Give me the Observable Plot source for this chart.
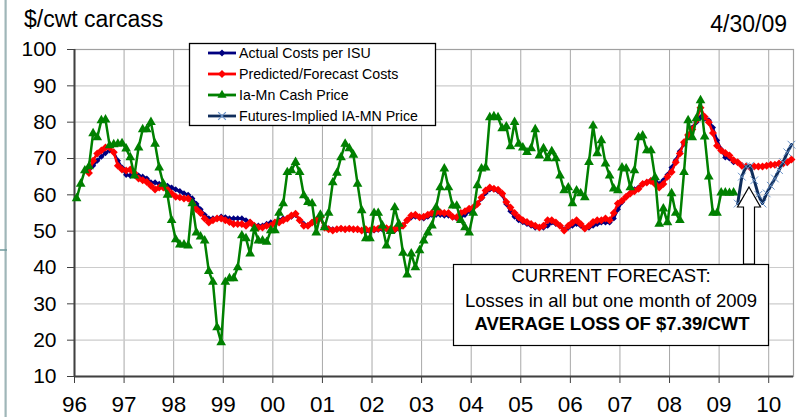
<!DOCTYPE html>
<html><head><meta charset="utf-8">
<script src="https://cdn.jsdelivr.net/npm/d3@7"></script>
<script src="https://cdn.jsdelivr.net/npm/@observablehq/plot@0.6"></script>
<style>
body{margin:0;background:#fff;}
#chart{position:relative;width:802px;height:417px;overflow:hidden;}
</style>
</head><body><div id="chart"></div>
<script>
const FONT = "'Liberation Sans', Arial, sans-serif";
const startYear = 1996;

// Ia-Mn Cash Price, monthly from Jan 1996
const cashStart = 0;
const cashPrice = [
  59, 63, 66.7, 67.8, 76.9, 75.8, 80.5, 80.7, 73.6, 73.9, 74, 74.2,
  72.7, 70.3, 65.3, 73, 78, 78, 80, 74, 67.5, 63, 60, 53,
  47.7, 46.3, 46.3, 46, 57.6, 49.6, 48.5, 47.4, 39, 36, 23.5, 19.4,
  36, 37, 37, 40, 48.8, 48, 43.8, 50.7, 47.4, 47.4, 47, 50.2,
  50.2, 55, 57.6, 66.2, 66.7, 69, 66.2, 59.8, 58, 57.6, 49.6, 54.5,
  51, 55, 63.4, 66, 70.3, 74, 72.8, 71, 63, 55.7, 48, 48,
  55, 55, 51.5, 46, 50, 56.5, 52, 44, 38, 43.8, 40, 44.7,
  47.4, 49.6, 51.5, 56.5, 62, 67.2, 62, 57, 57, 53, 51, 49.6,
  55, 62.6, 67.2, 67.5, 81.3, 81.6, 81.3, 78.3, 78.8, 73.3, 80, 74,
  73, 71.7, 72.8, 78, 70.8, 72.8, 70, 72, 70, 65.3, 61.2, 62,
  57.6, 61.2, 60.4, 59.3, 69, 79, 71.4, 75, 68.6, 65.3, 61.7, 61.2,
  67.5, 67.2, 62, 66.7, 75.8, 76.3, 72.2, 72.2, 64.8, 52, 56.2, 52.4,
  60.4, 55, 53, 66.2, 80.5, 75.8, 81, 86, 76, 65, 55, 55,
  60.6, 60.6, 60.5, 60.6
];

// Actual Costs per ISU, monthly from Apr 1996
const actualStart = 3;
const actualCosts = [
  67, 68, 69.4, 70.5, 71.5, 72.2, 71.7, 69.4, 67.5,
  65.5, 65.3, 65.3, 65.3, 65, 64.5, 63.4, 63.4, 63, 63, 62.5, 62,
  61.5, 61, 60.4, 60, 59, 57.5, 56, 54.5, 53.5, 53.5, 53.5, 54,
  53.8, 53.5, 53.5, 53.5, 53.5, 53, 52.5, 51.5, 51.5, 51.5, 52, 52.4,
  52.4, 53, 53.5, 53.5, 54, 54.5, 53, 52, 51.5, 52.4, 53, 53.5,
  51.5, 50.7, 50.5, 50.5, 50.7, 50.5, 50.7, 50.5, 50.4, 50.2, 50, 50,
  50.2, 50.4, 50.5, 50.5, 50.4, 50.2, 50.7, 51.5, 53, 53.8, 54, 53.8,
  53.5, 54, 54.5, 54.5, 54.5, 54.3, 54.3, 53.8, 53.5, 54, 54.5, 55.5,
  56.5, 57.5, 59, 60.5, 61.5, 61.5, 61, 60, 57.5, 55.5, 54, 53,
  52.5, 52, 51.5, 51, 51, 51, 51.5, 52.4, 52, 51.5, 50.5, 51,
  51.5, 52, 51.5, 50.7, 51, 51.5, 52, 52.4, 52.4, 52.4, 53.5, 56,
  58, 59.5, 60.5, 61.5, 62, 63, 63.4, 64, 64, 63, 64, 65.5,
  67.5, 69.5, 72, 74, 76, 78.5, 80, 81.3, 81, 80.5, 78.5, 75,
  72.5, 70.3, 70, 69
];

// Predicted/Forecast Costs, monthly from Apr 1996
const predictedStart = 3;
const predictedCosts = [
  66, 69.4, 71.4, 72.2, 73, 73, 71.7, 68, 67,
  66.7, 67, 66, 64.5, 64, 63.5, 62.5, 61.5, 62, 62, 61.5, 60.4,
  59.5, 59.3, 59, 59, 57.6, 56, 55, 53.5, 52.4, 53, 53.5, 53.5,
  53, 52.5, 52, 52, 52, 51.5, 52.4, 51.5, 51, 51, 51.5, 51.5,
  52.4, 52.4, 53, 53.5, 54.3, 54.8, 53, 51.5, 51.5, 52.4, 53, 53.8,
  51, 50.5, 50.2, 50.5, 50.7, 50.5, 50.7, 50.5, 50.5, 50.2, 50.5, 50.2,
  50.5, 50.7, 51, 50.8, 50.7, 50.5, 51, 51.5, 53, 54.3, 54.5, 53.8,
  54, 54.5, 55, 55.2, 55.2, 55, 55, 54, 53.8, 55, 55.5, 56.2,
  56.5, 57.5, 59.3, 61.2, 62, 61.7, 61.4, 60.4, 58, 56.5, 55, 53.8,
  53, 52.5, 52, 51.5, 51, 51.5, 53, 53, 52.4, 51.5, 50.2, 51.5,
  52.4, 53, 52, 50.7, 51.5, 52.5, 53, 53, 53.5, 53, 55, 57.6,
  58.4, 59.5, 60.4, 61, 61.7, 63, 63.4, 63.8, 63, 62, 63, 65,
  66.3, 69, 71.4, 74.5, 76.5, 78, 80.5, 84, 81.5, 80, 77, 73.5,
  72.2, 71.5, 70.8, 69.5, 69, 68, 67.8, 67.5, 67.8, 67.8, 67.8, 68,
  68.3, 68.3, 68.6, 68.6, 69, 69.7
];

// Futures-Implied IA-MN Price, monthly from May 2009
const futuresStart = 160;
const futuresPrice = [57.6, 65, 67.8, 68, 64, 60, 57.6, 60.4, 62.5, 64.5, 66.8, 69, 71.7, 73.8];

const yearTicks = [1996, 1997, 1998, 1999, 2000, 2001, 2002, 2003, 2004, 2005, 2006, 2007, 2008, 2009, 2010];
const yearLabels = ["96", "97", "98", "99", "00", "01", "02", "03", "04", "05", "06", "07", "08", "09", "10"];
const yTicks = [10, 20, 30, 40, 50, 60, 70, 80, 90, 100];

const seriesNames = ["Actual Costs per ISU", "Predicted/Forecast Costs", "Ia-Mn Cash Price", "Futures-Implied IA-MN Price"];
const colors = {actual: "#000080", predicted: "#FF0000", cash: "#008000", futures: "#102E5C", futuresMark: "#6A93C8"};

const rows = (arr, start) => arr.map((v, i) => ({t: startYear + (start + i + 0.5) / 12, v}));
const actualRows = rows(actualCosts, actualStart);
const predictedRows = rows(predictedCosts, predictedStart);
const cashRows = rows(cashPrice, cashStart);
const futuresRows = rows(futuresPrice, futuresStart);

const chart = Plot.plot({
  width: 802, height: 417,
  marginLeft: 74, marginRight: 9, marginTop: 49, marginBottom: 41,
  style: {fontFamily: FONT, background: "#fff", color: "#000", overflow: "visible"},
  x: {domain: [1996, 2010.5]},
  y: {domain: [10, 100]},
  marks: [
    Plot.gridX(yearTicks, {stroke: "#a8a8a8", strokeOpacity: 1, strokeWidth: 1}),
    Plot.gridY(yTicks, {stroke: "#cccccc", strokeOpacity: 1, strokeWidth: 1.2}),
    Plot.frame({stroke: "#a0a0a0", strokeWidth: 1.2}),
    Plot.axisY({ticks: yTicks, tickSize: 7, tickPadding: 11, fontSize: 21, stroke: "#404040", fill: "#000", label: null}),
    Plot.axisX({ticks: yearTicks, tickSize: 7, tickPadding: 13, fontSize: 22.5, stroke: "#404040", fill: "#000", label: null,
      tickFormat: d => yearLabels[yearTicks.indexOf(d)]}),
    Plot.ruleX([1996], {stroke: "#404040", strokeWidth: 2}),
    Plot.ruleY([10], {stroke: "#404040", strokeWidth: 2}),
    Plot.line(actualRows, {x: "t", y: "v", stroke: colors.actual, strokeWidth: 2.5}),
    Plot.dot(actualRows, {x: "t", y: "v", symbol: "diamond2", r: 2.8, fill: colors.actual, stroke: "none"}),
    Plot.line(predictedRows, {x: "t", y: "v", stroke: colors.predicted, strokeWidth: 2.5}),
    Plot.dot(predictedRows, {x: "t", y: "v", symbol: "diamond2", r: 3.6, fill: colors.predicted, stroke: "none"}),
    Plot.line(cashRows, {x: "t", y: "v", stroke: colors.cash, strokeWidth: 2.5}),
    Plot.dot(cashRows, {x: "t", y: "v", symbol: "triangle", r: 3.6, fill: colors.cash, stroke: "none"}),
    Plot.line(futuresRows, {x: "t", y: "v", stroke: colors.futures, strokeWidth: 3}),
    Plot.dot(futuresRows, {x: "t", y: "v", symbol: "times", r: 3.6, stroke: colors.futuresMark, strokeWidth: 1, fill: "none"})
  ]
});
document.getElementById("chart").appendChild(chart);

const svg = d3.select(chart);
const ov = svg.append("g").attr("font-family", FONT).attr("text-anchor", "start");

// slide decoration at left
ov.append("rect").attr("x", 4.5).attr("y", 0).attr("width", 2.2).attr("height", 417).attr("fill", "#9fb6b8");
ov.append("line").attr("x1", 0).attr("x2", 7).attr("y1", 250).attr("y2", 250).attr("stroke", "#6f9a9c").attr("stroke-width", 1.5);

// titles
ov.append("text").attr("x", 24).attr("y", 27).attr("font-size", 23).attr("fill", "#000").attr("text-anchor", "start").text("$/cwt carcass");
ov.append("text").attr("x", 787).attr("y", 32).attr("font-size", 23).attr("fill", "#000").attr("text-anchor", "end").text("4/30/09");

// legend
const lg = ov.append("g");
lg.append("rect").attr("x", 189.5).attr("y", 43.5).attr("width", 246).attr("height", 82)
  .attr("fill", "#fff").attr("stroke", "#000").attr("stroke-width", 1.3);
const legendItems = [
  {line: colors.actual, sym: d3.symbolDiamond2, size: 30, fill: colors.actual, stroke: "none"},
  {line: colors.predicted, sym: d3.symbolDiamond2, size: 40, fill: colors.predicted, stroke: "none"},
  {line: colors.cash, sym: d3.symbolTriangle, size: 36, fill: colors.cash, stroke: "none"},
  {line: colors.futures, sym: d3.symbolTimes, size: 40, fill: "none", stroke: colors.futuresMark}
];
legendItems.forEach((it, i) => {
  const cy = 53 + i * 21;
  lg.append("line").attr("x1", 208).attr("x2", 236).attr("y1", cy).attr("y2", cy)
    .attr("stroke", it.line).attr("stroke-width", 2.8);
  lg.append("path").attr("d", d3.symbol(it.sym, it.size)()).attr("transform", `translate(222,${cy})`)
    .attr("fill", it.fill).attr("stroke", it.stroke).attr("stroke-width", 1.2);
  lg.append("text").attr("x", 239).attr("y", cy + 5).attr("font-size", 14.2).attr("fill", "#000")
    .attr("text-anchor", "start").text(seriesNames[i]);
});

// annotation
const an = ov.append("g").attr("text-anchor", "middle").attr("fill", "#000");
an.append("rect").attr("x", 453.5).attr("y", 264.5).attr("width", 315).attr("height", 81)
  .attr("fill", "#fff").attr("stroke", "#000").attr("stroke-width", 1.2);
an.append("text").attr("x", 611).attr("y", 281.5).attr("font-size", 18.5).text("CURRENT FORECAST:");
an.append("text").attr("x", 611).attr("y", 306.7).attr("font-size", 18.5).text("Losses in all but one month of 2009");
an.append("text").attr("x", 612).attr("y", 329.5).attr("font-size", 18.5).attr("font-weight", "bold").text("AVERAGE LOSS OF $7.39/CWT");

// hollow arrow
an.append("polygon")
  .attr("points", "749,187 760.5,207 754.5,207 754.5,264 743.5,264 743.5,207 737.5,207")
  .attr("fill", "#fff").attr("stroke", "#000").attr("stroke-width", 1.2);
</script></body></html>
